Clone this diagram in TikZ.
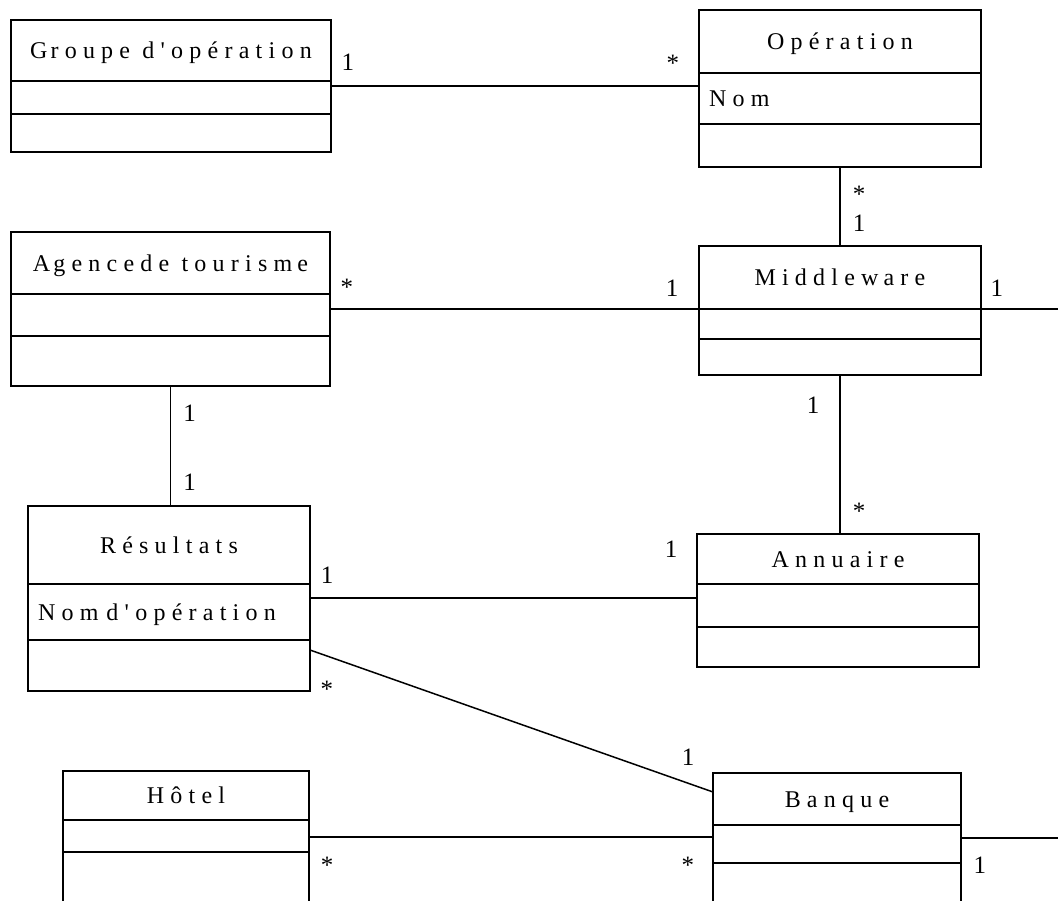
\documentclass[tikz,border=0pt]{standalone}
\usepackage{fontspec}
\setmainfont{Liberation Serif}
\newfontfamily\classfont[LetterSpace=26]{Liberation Serif}
\usetikzlibrary{positioning}

\begin{document}
\begin{tikzpicture}[
    x=1pt, y=-1pt,
    head/.style={
        draw, line width=2pt, inner sep=0pt, outer sep=0pt,
        font=\fontsize{24}{29}\classfont, text height=16pt, text depth=0pt
    },
    part/.style={
        draw, line width=2pt, inner sep=0pt, outer sep=0pt
    },
    attr/.style={
        part, inner xsep=10pt, align=left,
        font=\fontsize{24}{29}\classfont, text height=16pt, text depth=0pt
    },
    assoc/.style={line width=1.5pt},
    mult/.style={font=\fontsize{25}{30}\selectfont, inner sep=0pt, text height=17.5pt, text depth=0pt}
]
\useasboundingbox[clip] (0,0) rectangle (1058,900);

% --------------------------------------------------------------------------
% Classes: name / attributes / operations compartments, stacked.
% --------------------------------------------------------------------------
\node[head, minimum width=320pt, minimum height=61pt, anchor=north west] (groupe) at (11,20) {G\kern3pt roupe d'opération};
\node[part, minimum width=320pt, minimum height=33pt, below=0pt of groupe] (groupe-attr) {};
\node[part, minimum width=320pt, minimum height=38pt, below=0pt of groupe-attr] (groupe-ops) {};

\node[head, minimum width=282pt, minimum height=63pt, anchor=north west] (operation) at (699,10) {Opération};
\node[attr, text width=262pt, minimum height=51pt, below=0pt of operation] (operation-attr) {Nom};
\node[part, minimum width=282pt, minimum height=43pt, below=0pt of operation-attr] (operation-ops) {};

\node[head, minimum width=319pt, minimum height=62pt, anchor=north west] (agence) at (11,232) {A\kern3pt gencede tourism\kern5pt e};
\node[part, minimum width=319pt, minimum height=42pt, below=0pt of agence] (agence-attr) {};
\node[part, minimum width=319pt, minimum height=50pt, below=0pt of agence-attr] (agence-ops) {};

\node[head, minimum width=282pt, minimum height=63pt, anchor=north west] (middleware) at (699,246) {M\kern6pt iddlew\kern5pt are};
\node[part, minimum width=282pt, minimum height=30pt, below=0pt of middleware] (middleware-attr) {};
\node[part, minimum width=282pt, minimum height=36pt, below=0pt of middleware-attr] (middleware-ops) {};

\node[head, minimum width=282pt, minimum height=78pt, anchor=north west] (resultats) at (28,506) {Résultats};
\node[attr, text width=262pt, minimum height=56pt, below=0pt of resultats] (resultats-attr) {Nom d'opération};
\node[part, minimum width=282pt, minimum height=51pt, below=0pt of resultats-attr] (resultats-ops) {};

\node[head, minimum width=282pt, minimum height=50pt, anchor=north west] (annuaire) at (697,534) {Annuaire};
\node[part, minimum width=282pt, minimum height=43pt, below=0pt of annuaire] (annuaire-attr) {};
\node[part, minimum width=282pt, minimum height=40pt, below=0pt of annuaire-attr] (annuaire-ops) {};

\node[head, minimum width=246pt, minimum height=49pt, anchor=north west] (hotel) at (63,771) {Hôtel};
\node[part, minimum width=246pt, minimum height=32pt, below=0pt of hotel] (hotel-attr) {};
\node[part, minimum width=246pt, minimum height=80pt, below=0pt of hotel-attr] (hotel-ops) {};

\node[head, minimum width=248pt, minimum height=52pt, anchor=north west] (banque) at (713,773) {Banque};
\node[part, minimum width=248pt, minimum height=38pt, below=0pt of banque] (banque-attr) {};
\node[part, minimum width=248pt, minimum height=80pt, below=0pt of banque-attr] (banque-ops) {};

% Attachment points of the associations.
\coordinate (groupe-out) at ([yshift=-5pt]groupe-attr.north east);
\coordinate (resultats-out) at ([yshift=-14pt]resultats-attr.north east);
\coordinate (hotel-out) at ([yshift=-17pt]hotel-attr.north east);
\coordinate (banque-out) at ([yshift=-13pt]banque-attr.north east);
\coordinate (middleware-exit) at (1060,309);
\coordinate (banque-exit) at (1060,838);

% --------------------------------------------------------------------------
% Associations with their multiplicities.
% --------------------------------------------------------------------------
\draw[assoc] (groupe-out) -- (groupe-out -| operation-attr.west)
    node[mult, pos=0.046, above=15pt] {1}
    node[mult, pos=0.929, above=14pt] {*};
\draw[assoc] (operation-ops.south) -- (operation-ops.south |- middleware.north)
    node[mult, pos=0.34, right=12pt] {*}
    node[mult, pos=0.71, right=12pt] {1};
\draw[assoc] (middleware.south west -| agence-attr.east) -- (middleware.south west)
    node[mult, pos=0.046, above=13pt] {*}
    node[mult, pos=0.927, above=12pt] {1};
\draw[assoc] (middleware.south east) -- (middleware-exit)
    node[mult, pos=0.2, above=12pt] {1};
\draw[assoc] (middleware-ops.south) -- (middleware-ops.south |- annuaire.north)
    node[mult, pos=0.19, left=20pt] {1}
    node[mult, pos=0.855, right=12pt] {*};
\draw[assoc] (agence-ops.south) -- (agence-ops.south |- resultats.north)
    node[mult, pos=0.22, right=12pt] {1}
    node[mult, pos=0.8, right=12pt] {1};
\draw[assoc] (resultats-out) -- (resultats-out -| annuaire-attr.west)
    node[mult, pos=0.044, above=14pt] {1}
    node[mult, pos=0.933, above=40pt] {1};
\draw[assoc] ([yshift=-10pt]resultats-ops.north east) -- ([yshift=-19pt]banque.north west)
    node[mult, pos=0.042, below=23pt] {*}
    node[mult, pos=0.938, above=17pt] {1};
\draw[assoc] (hotel-out) -- (hotel-out -| banque-attr.west)
    node[mult, pos=0.045, below=18pt] {*}
    node[mult, pos=0.938, below=18pt] {*};
\draw[assoc] (banque-out) -- (banque-exit)
    node[mult, pos=0.19, below=17pt] {1};

\end{tikzpicture}
\end{document}
